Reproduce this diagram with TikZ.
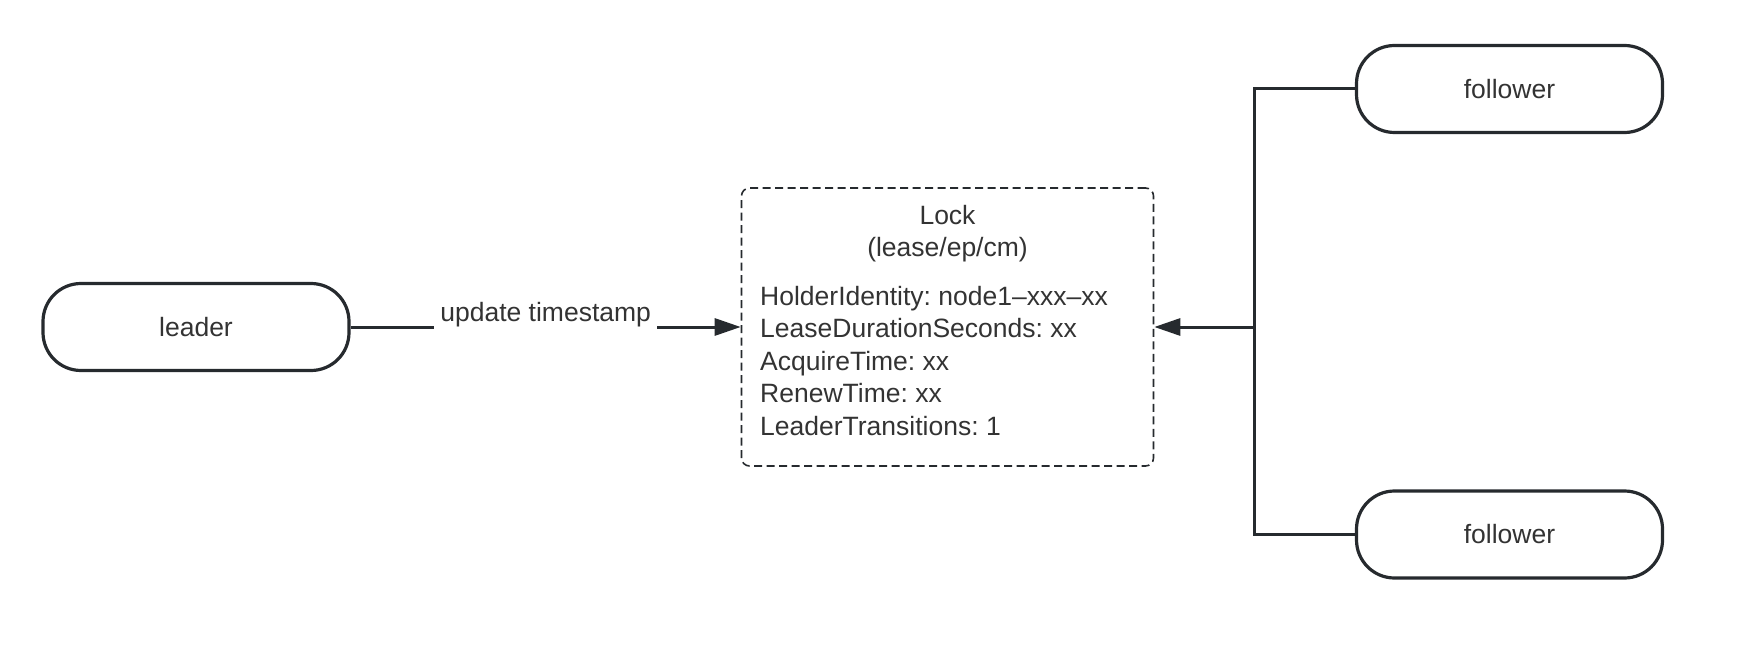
\documentclass[tikz,border=0pt]{standalone}
\usepackage{fontspec}
\setmainfont{Liberation Sans}
\usepackage{xcolor}
\usetikzlibrary{arrows.meta,positioning,calc}

\definecolor{edge}{HTML}{262A2E}
\definecolor{ink}{HTML}{333333}
\frenchspacing

\begin{document}
\begin{tikzpicture}[
  x=1pt, y=1pt,
  pill/.style={draw=edge, line width=3.2pt, rounded corners=38pt, fill=white,
               minimum width=306pt, minimum height=87pt, inner sep=0pt,
               text=ink, font=\fontsize{26.5}{32.4}\selectfont},
  lockbox/.style={draw=edge, line width=1.6pt, dash pattern=on 8pt off 4.5pt,
                  rounded corners=8pt, minimum width=412pt, minimum height=278pt,
                  inner sep=0pt},
  txt/.style={text=ink, inner sep=0pt, font=\fontsize{26.5}{32.4}\selectfont},
  fl/.style={-{Triangle[length=26pt, width=17pt]}, draw=edge, line width=3pt},
  wire/.style={draw=edge, line width=3pt},
  lbl/.style={txt, fill=white, inner xsep=6pt, inner ysep=3pt},
]
\useasboundingbox (0,0) rectangle (1752,-660);

\def\rM{-327}  % middle row: leader, lock, arrows

% ============ nodes =========================================================
\node[pill]    (leader) at (196,\rM)  {leader};
\node[lockbox] (lock)   at (947.5,\rM) {};
% base anchor sits on the last line of a multi-line node
\node[txt, align=center, anchor=base] (locktitle) at (947.5,-256.5)
  {Lock\\(lease/ep/cm)};
\node[txt, align=left, anchor=base west] (lockfields) at (760,-435)
  {HolderIdentity: node1--xxx--xx\\
   LeaseDurationSeconds: xx\\
   AcquireTime: xx\\
   RenewTime: xx\\
   LeaderTransitions: 1};

\node[pill] (ftop) at (1509.5,-89)  {follower};
\node[pill] (fbot) at (1509.5,-534.5) {follower};

\coordinate (jn) at ([xshift=-100pt]ftop.west |- lock.east);

% ============ flows =========================================================
\draw[fl] (leader.east) -- node[lbl, yshift=12pt] {update timestamp} (lock.west);
\draw[wire] (ftop.west) -| (jn) |- (fbot.west);
\draw[fl] (jn) -- (lock.east);

\end{tikzpicture}
\end{document}
